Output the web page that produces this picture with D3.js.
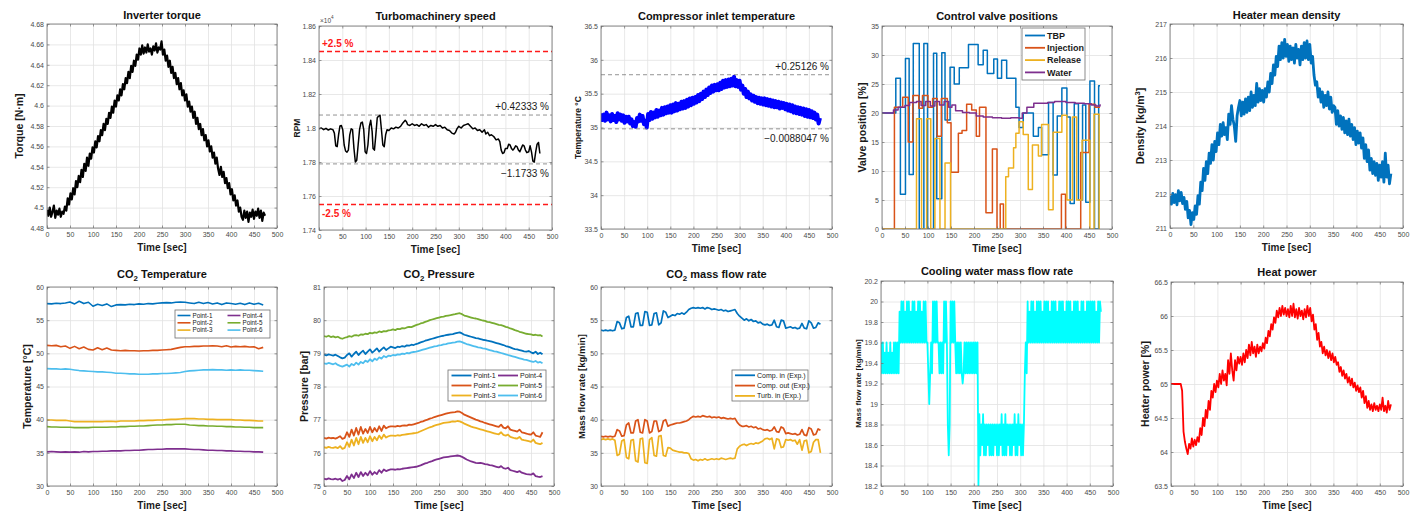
<!DOCTYPE html>
<html>
<head>
<meta charset="utf-8">
<script src="https://cdn.jsdelivr.net/npm/d3@7"></script>
<style>
  body { margin: 0; background: #fff; }
  svg { display: block; font-family: "Liberation Sans", Arial, Helvetica, sans-serif; }
</style>
</head>
<body>
<svg id="fig" width="1419" height="514"></svg>
<script>
// ---------------- shared axis data ----------------
const timeTicks = [0, 50, 100, 150, 200, 250, 300, 350, 400, 450, 500];

// ---------------- Inverter torque [N·m], sampled every 3 s ----------------
const torqueStep = 3;
const torqueTicks = [4.48, 4.5, 4.52, 4.54, 4.56, 4.58, 4.6, 4.62, 4.64, 4.66, 4.68];
const torque = [
  4.498,4.492,4.500,4.491,4.496,4.502,4.490,4.497,4.493,4.499,4.491,4.496,4.494,
  4.501,4.497,4.509,4.503,4.514,4.508,4.519,4.513,4.526,4.520,4.531,4.525,4.537,4.530,4.543,4.536,
  4.549,4.541,4.553,4.548,4.559,4.554,4.565,4.559,4.570,4.565,4.576,4.571,4.582,4.576,4.587,4.582,
  4.593,4.588,4.599,4.593,4.605,4.599,4.610,4.605,4.616,4.610,4.621,4.616,4.627,4.622,4.633,4.627,
  4.639,4.633,4.644,4.639,4.650,4.645,4.656,4.650,
  4.659,4.651,4.657,4.652,4.660,4.653,4.656,4.650,4.658,4.654,4.661,4.652,4.657,4.655,4.663,
  4.650,4.655,4.644,4.649,4.638,4.644,4.632,4.638,4.627,4.632,4.621,4.627,4.616,4.622,4.610,4.615,
  4.605,4.611,4.599,4.604,4.594,4.599,4.588,4.594,4.582,4.588,4.577,4.582,4.571,4.577,4.566,4.571,
  4.560,4.566,4.555,4.560,4.549,4.554,4.543,4.549,4.538,4.532,4.540,4.530,4.535,4.524,4.529,4.519,
  4.524,4.513,4.518,4.507,4.512,4.502,4.507,4.496,4.500,4.491,
  4.488,4.497,4.490,4.496,4.486,4.495,4.491,4.498,4.489,4.496,4.492,4.499,4.490,4.497,4.487,4.495,4.492
];

// ---------------- Turbomachinery speed [RPM] ----------------
const speedTicks = [17400, 17600, 17800, 18000, 18200, 18400, 18600];
const speedRef = 18000;
const speedLimits = [2.5, -2.5];            // allowed band [%]
const speedExtremes = [0.42333, -1.1733];   // observed band [%]
const speed = [
  [0,17995],[5,18000],[10,17990],[15,17998],[20,17988],[25,17995],[30,17990],[33,17970],[36,17895],[39,17890],
  [42,17960],[45,18012],[48,18015],[51,17990],[54,17900],[57,17865],[60,17858],[63,17870],[66,17960],[69,17995],
  [72,17990],[75,17880],[78,17800],[81,17810],[84,17900],[87,17990],[90,18030],[93,18035],[96,17990],[99,17860],
  [102,17850],[105,17900],[108,18010],[111,18045],[114,17980],[116,17880],[119,17870],[122,17960],[125,18060],
  [128,18070],[131,18075],[134,17990],[137,17900],[140,17890],[143,17960],[146,17990],[150,17985],[155,18000],
  [160,17995],[165,18005],[170,18000],[175,18010],[180,18030],[185,18045],[188,18035],[190,18020],[195,18015],
  [200,18025],[205,18015],[210,18020],[215,18010],[220,18025],[225,18015],[230,18020],[235,18005],[240,18015],
  [245,18010],[250,18020],[255,18010],[260,18015],[265,18000],[270,18005],[275,17990],[280,17985],[285,17970],
  [290,17965],[293,17975],[296,17995],[300,18010],[305,18000],[310,18015],[315,18020],[320,18025],[325,18010],
  [330,17995],[335,18000],[340,17985],[345,17990],[350,17975],[355,17990],[358,17965],[362,17975],[366,17955],
  [370,17960],[375,17950],[380,17930],[385,17935],[388,17920],[391,17870],[394,17850],[397,17855],[400,17880],
  [404,17880],[407,17905],[410,17900],[413,17880],[416,17870],[419,17880],[422,17895],[425,17890],[428,17870],
  [431,17860],[434,17880],[437,17900],[440,17895],[443,17870],[446,17855],[450,17860],[453,17895],[456,17860],
  [459,17805],[462,17800],[465,17860],[468,17905],[471,17915],[474,17850]
];

// ---------------- Compressor inlet temperature [°C], every 3 s ----------------
const inletStep = 3;
const inletTicks = [33.5, 34, 34.5, 35, 35.5, 36, 36.5];
const inletBands = [{ value: 35.78, label: "+0.25126 %" }, { value: 34.98, label: "\u22120.0088047 %" }];
const inletTemp = [
  35.21,35.11,35.19,35.10,35.22,35.12,35.18,35.09,35.20,35.11,35.17,35.08,35.21,35.12,35.19,35.10,35.18,35.07,35.16,35.09,
  35.16,35.06,35.12,35.02,35.08,35.01,35.14,35.09,35.19,35.10,35.17,35.05,35.10,35.00,
  35.20,35.11,35.23,35.13,35.22,35.15,35.26,35.16,35.25,35.18,35.29,35.19,35.30,35.21,35.31,35.22,
  35.33,35.22,35.34,35.24,35.36,35.25,35.35,35.27,35.38,35.28,35.39,35.29,35.41,35.31,35.43,35.33,35.44,
  35.35,35.45,35.37,35.48,35.39,35.50,35.42,35.53,35.45,35.56,35.48,35.59,35.51,35.62,35.53,35.63,35.55,
  35.64,35.55,35.66,35.57,35.69,35.59,35.70,35.60,35.71,35.61,35.72,35.62,35.75,35.61,35.70,35.60,35.69,
  35.56,35.62,35.50,35.57,35.45,35.53,35.43,35.49,35.40,35.47,35.38,35.45,35.36,35.44,35.35,35.43,35.34,
  35.43,35.33,35.42,35.32,35.41,35.31,35.40,35.30,35.39,35.30,35.38,35.28,35.37,35.29,35.36,35.27,35.35,
  35.25,35.34,35.24,35.33,35.22,35.31,35.21,35.30,35.20,35.29,35.19,35.28,35.17,35.27,35.16,35.26,35.15,
  35.24,35.14,35.22,35.12,35.19,35.06,35.14
];

// ---------------- Control valve positions [%] (time, opening) ----------------
const valveTicks = [0, 5, 10, 15, 20, 25, 30, 35];
const valveTBP = [
  [0,20],[30,26],[40,6],[51,29.4],[59,9.4],[68,32],[81,0],[91,32],[99,0],[112,30.3],[119,5.2],[130,30.4],
  [137,18.8],[148,27.9],[157,25],[168,27.8],[188,31.8],[209,28.3],[220,30.8],[229,26.8],[243,29.3],[251,26],
  [260,29.1],[271,26],[291,21],[298,17.5],[307,20],[329,16],[340,17.5],[347,12.8],[362,21.8],[372,9.3],
  [381,19.5],[391,24.3],[402,19.3],[409,4.4],[418,21.6],[427,5],[436,21.4],[443,4.6],[452,25.5],[462,0],
  [471,24.7],[474,24.7]
];
const valveInjection = [
  [0,0],[27,21],[45,22.7],[57,15],[67,23],[80,20.8],[88,23],[100,21],[110,22.5],[120,16],[129,22.5],
  [142,18.3],[150,9.8],[166,16.5],[174,17],[184,21.5],[195,20.5],[205,16],[212,21],[226,2.8],[240,13.8],
  [250,0],[257,4.3],[264,0],[390,6],[399,0],[432,13.2],[450,21.5],[463,21],[474,21]
];
const valveRelease = [
  [0,0],[75,19],[86,0],[97,19],[106,0],[115,15.6],[126,0],[137,11.4],[149,0],[269,9],[275,10.5],[286,14],
  [291,16.5],[298,18.5],[307,16.3],[318,6.8],[327,14.5],[340,12.6],[347,18],[362,3.3],[372,16.7],[391,19.6],
  [402,5],[414,19.3],[423,5],[435,15.3],[452,0],[461,19.8],[472,0],[474,0]
];
const valveWater = [
  [0,20],[25,20.5],[35,21],[50,21.3],[60,21.8],[75,22],[85,21.3],[95,22],[105,21.2],[115,22],[125,21.4],
  [135,22],[145,21],[152,21.4],[160,20.4],[175,20.1],[190,20],[205,19.5],[220,19.3],[240,19.2],[260,19.1],
  [280,19.2],[298,19.1],[305,20],[315,21],[330,21.7],[360,21.8],[375,22],[400,21.8],[420,21.7],[440,21.6],
  [455,21.4],[465,21.2],[474,21.5]
];

// ---------------- Heater mean density [kg/m³], every 3 s ----------------
const densityStep = 3;
const densityTicks = [211, 212, 213, 214, 215, 216, 217];
const density = [
  211.95,211.70,212.02,211.75,211.98,211.68,212.10,211.80,212.05,211.72,211.90,211.55,211.78,211.30,211.52,211.10,211.45,211.25,211.65,211.40,
  211.95,211.70,212.35,212.10,212.75,212.40,212.95,212.60,213.20,212.90,213.45,213.00,213.55,213.25,
  213.80,213.45,214.05,213.70,214.10,213.75,213.95,213.60,214.35,214.05,214.60,214.20,214.00,213.55,214.30,214.55,
  214.75,214.30,214.70,214.35,214.80,214.40,214.85,214.45,215.00,214.55,214.90,214.60,215.25,214.70,215.10,214.75,215.05,
  214.70,215.10,214.85,215.30,215.00,215.55,215.25,215.80,215.50,216.05,215.75,216.35,215.95,216.45,216.00,216.55,216.05,
  216.40,215.90,216.35,215.95,216.30,215.85,216.40,216.00,216.25,215.80,216.35,215.95,216.45,216.00,216.50,215.95,216.40,
  215.85,216.05,215.50,215.20,215.30,214.85,215.10,214.70,215.00,214.55,214.90,214.60,215.00,214.50,214.85,214.40,214.60,
  214.55,214.05,214.45,214.00,214.30,213.90,214.25,213.80,214.15,213.75,214.20,213.70,214.05,213.60,213.95,213.45,213.85,
  213.50,213.80,213.35,213.65,213.05,213.45,212.95,213.30,212.70,213.05,212.60,212.95,212.55,212.90,212.40,212.85,212.50,
  212.95,212.35,213.20,212.50,212.85,212.30,212.60
];

// ---------------- CO2 temperature [°C] at six loop points, every 10 s ----------------
const co2TempStep = 10;
const co2TempTicks = [30, 35, 40, 45, 50, 55, 60];
const tempP1 = [57.5,57.45,57.55,57.5,57.6,57.75,57.45,57.85,57.5,57.7,57.1,57.4,57.2,57.45,57.05,57.3,57.35,57.3,57.4,57.35,57.45,57.4,57.5,57.45,57.55,57.6,57.65,57.6,57.7,57.75,57.7,57.6,57.5,57.7,57.5,57.65,57.45,57.6,57.35,57.6,57.5,57.4,57.55,57.35,57.6,57.4,57.55,57.3];
const tempP2 = [51.2,51.15,51.2,51.0,51.1,50.75,51.05,50.7,50.95,50.6,50.5,50.85,50.55,50.8,50.5,50.45,50.4,50.45,50.4,50.4,50.35,50.4,50.4,50.45,50.45,50.5,50.55,50.6,50.75,50.9,51.0,51.0,51.05,51.05,51.1,51.1,51.15,51.1,51.0,51.15,50.95,51.05,51.0,51.05,50.95,51.0,50.7,50.9];
const tempP3 = [39.95,39.95,39.9,39.9,39.9,39.8,39.7,39.7,39.7,39.7,39.7,39.7,39.7,39.75,39.75,39.7,39.8,39.8,39.8,39.8,39.85,39.85,39.9,39.9,39.95,39.95,40.0,40.05,40.05,40.1,40.15,40.15,40.15,40.1,40.1,40.05,40.05,40.0,40.0,40.0,40.0,39.95,39.95,39.9,39.9,39.85,39.8,39.8];
const tempP4 = [35.15,35.2,35.15,35.1,35.15,35.1,35.15,35.1,35.2,35.15,35.2,35.2,35.25,35.25,35.3,35.3,35.3,35.35,35.35,35.4,35.4,35.45,35.5,35.5,35.55,35.55,35.6,35.6,35.6,35.6,35.6,35.55,35.5,35.5,35.45,35.4,35.4,35.35,35.35,35.3,35.3,35.25,35.25,35.2,35.2,35.15,35.15,35.1];
const tempP5 = [38.95,38.9,38.9,38.85,38.85,38.85,38.8,38.8,38.8,38.8,38.85,38.85,38.85,38.85,38.9,38.9,38.95,38.95,39.0,39.0,39.05,39.05,39.1,39.15,39.2,39.2,39.25,39.25,39.3,39.3,39.3,39.2,39.15,39.1,39.1,39.05,39.05,39.0,39.0,38.95,38.95,38.9,38.9,38.85,38.85,38.8,38.8,38.8];
const tempP6 = [47.7,47.65,47.65,47.6,47.65,47.6,47.5,47.4,47.35,47.3,47.25,47.2,47.2,47.15,47.1,47.0,47.0,46.95,46.9,46.9,46.85,46.85,46.85,46.9,46.9,46.95,46.95,47.0,47.05,47.1,47.25,47.35,47.4,47.45,47.5,47.5,47.55,47.5,47.5,47.45,47.5,47.45,47.5,47.45,47.45,47.4,47.35,47.3];

// ---------------- CO2 pressure [bar] at six loop points, every 5 s ----------------
const co2PresStep = 5;
const co2PresTicks = [75, 76, 77, 78, 79, 80, 81];
const presP1 = [78.96,78.94,78.97,78.95,78.93,78.96,78.92,78.88,78.85,78.87,78.95,79.00,78.90,78.98,79.05,78.95,79.02,79.08,78.98,79.05,79.12,79.02,79.08,79.15,79.05,79.12,79.18,79.10,79.15,79.20,79.18,79.16,79.20,79.19,79.22,79.20,79.24,79.23,79.26,79.25,79.28,79.30,79.33,79.35,79.38,79.40,79.42,79.44,79.46,79.48,79.50,79.52,79.53,79.55,79.56,79.57,79.58,79.60,79.62,79.63,79.60,79.56,79.54,79.52,79.50,79.48,79.46,79.45,79.43,79.41,79.40,79.38,79.37,79.35,79.33,79.31,79.29,79.27,79.25,79.22,79.20,79.18,79.15,79.13,79.12,79.10,79.08,79.06,79.05,79.07,79.03,79.00,79.05,78.98,79.02,78.97];
const presP2 = [76.45,76.43,76.46,76.44,76.45,76.43,76.46,76.50,76.42,76.45,76.62,76.48,76.70,76.52,76.75,76.55,76.78,76.58,76.72,76.60,76.78,76.62,76.75,76.64,76.80,76.66,76.82,76.74,76.78,76.80,76.80,76.79,76.81,76.80,76.82,76.83,76.82,76.85,76.84,76.86,76.88,76.90,76.93,76.95,76.98,77.00,77.03,77.05,77.08,77.10,77.12,77.14,77.16,77.18,77.20,77.21,77.22,77.23,77.25,77.24,77.20,77.15,77.12,77.09,77.06,77.03,77.00,76.98,76.95,76.93,76.90,76.88,76.86,76.84,76.82,76.80,76.78,76.85,76.76,76.74,76.80,76.70,76.68,76.66,76.64,76.70,76.62,76.60,76.58,76.56,76.55,76.62,76.52,76.50,76.48,76.62];
const presP3 = [76.17,76.15,76.18,76.16,76.15,76.17,76.14,76.20,76.12,76.15,76.32,76.18,76.40,76.22,76.45,76.26,76.48,76.30,76.45,76.32,76.50,76.35,76.48,76.38,76.52,76.42,76.55,76.46,76.50,76.52,76.52,76.51,76.53,76.52,76.54,76.55,76.56,76.57,76.58,76.59,76.60,76.62,76.65,76.68,76.71,76.74,76.77,76.79,76.82,76.84,76.86,76.88,76.90,76.91,76.92,76.93,76.95,76.94,76.96,76.95,76.92,76.88,76.85,76.82,76.79,76.77,76.75,76.73,76.71,76.69,76.67,76.65,76.63,76.61,76.59,76.57,76.56,76.62,76.54,76.52,76.55,76.48,76.46,76.44,76.43,76.48,76.40,76.38,76.37,76.35,76.33,76.40,76.30,76.28,76.26,76.30];
const presP4 = [75.22,75.20,75.23,75.21,75.20,75.22,75.19,75.22,75.15,75.18,75.30,75.20,75.35,75.24,75.40,75.27,75.42,75.30,75.40,75.32,75.45,75.34,75.42,75.36,75.48,75.40,75.50,75.45,75.48,75.50,75.50,75.49,75.51,75.50,75.52,75.53,75.54,75.55,75.56,75.57,75.58,75.60,75.62,75.65,75.68,75.70,75.73,75.75,75.78,75.80,75.82,75.84,75.86,75.87,75.88,75.89,75.90,75.91,75.92,75.91,75.88,75.84,75.80,75.77,75.74,75.72,75.70,75.69,75.70,75.68,75.66,75.65,75.63,75.62,75.60,75.58,75.56,75.60,75.54,75.52,75.55,75.48,75.46,75.44,75.42,75.45,75.40,75.38,75.36,75.35,75.34,75.38,75.30,75.28,75.27,75.30];
const presP5 = [79.52,79.50,79.53,79.49,79.51,79.48,79.50,79.46,79.44,79.47,79.49,79.52,79.50,79.54,79.55,79.53,79.57,79.56,79.59,79.58,79.62,79.60,79.63,79.62,79.66,79.64,79.67,79.66,79.69,79.70,79.72,79.70,79.74,79.73,79.76,79.75,79.78,79.80,79.79,79.82,79.85,79.87,79.90,79.92,79.95,79.97,80.00,80.02,80.04,80.06,80.08,80.10,80.11,80.13,80.14,80.15,80.17,80.18,80.20,80.21,80.18,80.14,80.12,80.10,80.08,80.06,80.05,80.03,80.01,79.99,79.98,79.95,79.94,79.92,79.90,79.88,79.86,79.85,79.83,79.80,79.78,79.75,79.73,79.70,79.68,79.65,79.63,79.61,79.59,79.58,79.57,79.55,79.56,79.54,79.55,79.51];
const presP6 = [78.70,78.68,78.71,78.69,78.67,78.70,78.65,78.62,78.60,78.63,78.66,78.60,78.68,78.64,78.72,78.66,78.74,78.70,78.78,78.74,78.82,78.76,78.84,78.80,78.88,78.84,78.92,78.88,78.93,78.92,78.95,78.94,78.97,78.96,78.99,78.98,79.01,79.00,79.03,79.04,79.05,79.07,79.09,79.11,79.13,79.15,79.17,79.19,79.21,79.22,79.24,79.25,79.27,79.28,79.30,79.31,79.32,79.33,79.35,79.36,79.34,79.31,79.28,79.26,79.24,79.22,79.20,79.18,79.17,79.15,79.14,79.12,79.10,79.08,79.06,79.05,79.03,79.01,78.99,78.97,78.95,78.93,78.91,78.89,78.87,78.85,78.83,78.81,78.80,78.78,78.76,78.74,78.77,78.72,78.74,78.70];

// ---------------- CO2 mass flow rate [kg/min], every 5 s ----------------
const flowStep = 5;
const flowTicks = [30, 35, 40, 45, 50, 55, 60];
const flowCompIn = [53.5,53.4,53.5,53.4,53.5,53.4,53.5,54.8,54.6,53.7,53.8,55.4,55.6,54.0,54.0,56.0,56.1,54.2,54.2,56.3,56.2,54.2,54.3,56.0,56.1,54.3,54.6,56.4,56.2,55.4,55.6,55.8,55.7,56.0,55.9,56.1,55.9,56.2,56.6,56.8,56.9,56.8,56.9,56.8,56.9,56.7,56.9,56.8,56.6,56.7,56.6,56.5,56.6,56.4,56.5,56.3,56.4,56.5,56.6,56.0,55.6,55.3,55.0,55.2,54.9,55.1,54.8,54.9,54.6,54.7,54.4,54.3,54.4,54.2,54.3,55.0,54.0,53.9,55.0,54.9,53.8,53.9,54.0,53.8,53.9,53.7,53.8,54.5,53.8,53.7,54.9,54.6,53.8,53.9,54.6,54.4];
const flowCompOut = [37.5,37.4,37.5,37.4,37.5,37.4,37.5,38.5,38.3,37.5,37.6,39.2,39.5,38.0,38.0,39.8,40.0,38.1,38.0,40.0,39.8,38.0,38.2,39.8,39.8,38.2,38.4,39.8,40.0,39.0,39.2,39.3,39.4,39.5,39.5,39.6,39.7,39.8,40.0,40.3,40.5,40.4,40.5,40.4,40.6,40.5,40.4,40.5,40.3,40.4,40.3,40.4,40.2,40.3,40.2,40.1,40.2,40.1,40.2,39.6,39.2,39.0,39.0,39.1,38.9,39.0,38.8,38.9,38.6,38.7,38.5,38.4,38.5,38.3,38.4,38.9,38.2,38.1,38.9,38.7,37.9,38.0,37.9,37.8,37.9,37.7,37.8,38.5,37.7,37.6,38.8,38.6,37.7,37.8,38.6,38.4];
const flowTurbIn = [37.0,37.1,37.0,37.1,37.0,37.1,36.9,34.6,34.8,36.8,37.0,34.3,34.1,36.9,37.0,33.8,33.6,37.1,37.2,33.5,33.4,37.0,37.3,34.6,34.5,37.5,37.6,34.6,34.5,35.8,35.7,35.4,35.3,35.2,35.1,35.1,35.0,35.0,34.9,34.1,33.9,34.0,33.8,34.0,33.9,34.1,33.9,34.0,34.1,34.0,34.1,34.0,34.2,34.1,34.0,34.1,34.2,34.1,34.2,35.6,36.0,36.2,36.3,36.1,36.3,36.4,36.3,36.5,36.4,36.6,36.8,37.1,37.2,37.0,37.2,35.6,37.1,37.0,35.8,35.9,37.0,36.9,37.0,36.8,36.9,36.3,37.0,35.4,36.8,36.9,35.0,35.2,36.6,37.0,37.0,35.0];

// ---------------- Cooling water mass flow rate [kg/min], every 2 s ----------------
const waterStep = 2;
const waterTicks = [18.2, 18.4, 18.6, 18.8, 19, 19.2, 19.4, 19.6, 19.8, 20, 20.2];
const coolingWater = [
  19.6,19.3,19.6,19.3,19.5,19.3,19.6,19.3,19.5,19.3,19.6,19.3,19.5,19.3,19.6,19.3,19.6,19.3,19.6,19.3,
  19.9,19.6,20.0,19.6,20.0,19.6,19.9,19.6,20.0,19.6,20.0,19.6,19.9,19.6,20.0,19.6,20.0,19.6,19.9,19.6,
  20.0,19.6,20.0,19.6,19.9,19.6,20.0,19.6,20.0,19.6,
  19.6,19.3,19.0,19.3,19.6,19.3,
  20.0,19.6,20.0,19.6,20.0,19.6,19.6,
  19.3,19.6,19.3,19.6,19.3,
  20.0,19.6,20.0,19.6,
  18.8,18.5,18.8,
  20.0,19.6,20.0,19.6,20.0,
  19.6,19.3,19.6,19.3,19.6,19.3,19.6,19.3,19.2,19.3,19.6,19.3,19.6,19.3,19.6,19.3,19.6,19.3,19.6,19.3,19.6,19.3,19.6,19.3,19.6,
  18.2,
  18.9,18.5,18.8,18.6,18.9,18.5,18.8,18.5,18.8,18.6,18.8,18.5,18.8,18.5,18.8,18.5,18.8,18.6,18.8,18.5,
  18.8,18.5,18.8,18.6,18.9,18.5,18.8,18.5,18.9,18.5,18.8,18.6,18.8,18.5,18.8,18.5,18.8,18.6,18.9,18.5,
  18.8,18.5,18.9,18.6,18.8,18.5,18.8,18.5,18.8,
  19.3,19.6,19.3,
  20.0,19.6,19.9,19.6,20.0,19.6,20.0,19.6,19.9,19.6,20.0,19.6,20.0,19.6,20.0,19.6,19.9,19.6,20.0,19.6,
  20.0,19.6,20.0,19.6,19.9,19.6,20.0,19.6,20.0,19.6,20.0,19.6,19.9,19.6,20.0,19.6,20.0,19.6,20.0,19.6,
  19.9,19.6,20.0,19.6,20.0,19.6,20.0,19.6,19.9,19.6,20.0,19.6,20.0,19.6,20.0,19.6,19.9,19.6,20.0,19.6,
  20.0,19.6,19.9,19.6,20.0,19.6,20.0,19.6,20.0,19.6,20.0,19.6,20.0,19.6,19.9,19.6,20.0,19.6,20.0,19.9
];

// ---------------- Heat power [%], every 3 s ----------------
const heatStep = 3;
const heatTicks = [63.5, 64, 64.5, 65, 65.5, 66, 66.5];
const heatPower = [
  65,65,65,65,65,65,65,65,
  64.90,64.30,64.15,64.05,63.97,64.12,64.05,64.20,64.08,64.18,64.10,64.22,
  64.15,64.35,64.25,64.50,64.38,64.62,64.50,64.75,64.62,64.90,64.80,65.00,64.88,65.05,
  64.95,65.15,65.00,65.20,65.05,65.15,64.98,65.35,65.15,65.45,65.20,65.05,65.35,65.20,65.40,65.30,
  65.40,65.28,65.45,65.32,65.50,65.38,65.58,65.42,65.62,65.45,65.55,65.40,65.58,65.45,65.55,65.48,65.60,
  65.52,65.68,65.60,65.78,65.70,65.88,65.80,65.98,65.90,66.08,65.98,66.12,66.00,66.15,66.02,66.12,66.00,
  66.10,65.98,66.15,66.00,66.18,65.98,66.10,65.96,66.12,66.00,66.08,65.95,66.10,65.98,66.15,66.00,66.12,
  65.92,66.02,65.80,65.88,65.65,65.75,65.55,65.62,65.45,65.55,65.42,65.50,65.38,65.48,65.35,65.45,65.32,
  65.40,65.28,65.32,65.18,65.25,65.12,65.20,65.08,65.15,65.02,65.10,64.98,65.08,64.95,65.02,64.90,64.98,
  64.88,64.95,64.80,64.90,64.72,64.82,64.65,64.75,64.62,64.70,64.60,64.72,64.62,64.68,64.60,64.70,64.62,
  64.80,64.60,64.68,64.58,64.75,64.62,64.70
];

// ---------------- palette ----------------
const C = {
  blue: "#0072BD", orange: "#D95319", yellow: "#EDB120",
  purple: "#7E2F8E", green: "#77AC30", sky: "#4DBEEE"
};

// ---------------- helpers ----------------
const svg = d3.select("#fig");
const sampled = (step, vals) => vals.map((v, i) => [i * step, v]);
const fmt = d => String(+d.toFixed(2));
let clipCount = 0;

// Writes text pieces; "sub"/"sup" pieces are shifted and shrunk, the next piece returns to the baseline.
function richText(sel, parts) {
  let pending = 0;
  parts.forEach(([t, kind]) => {
    const shift = kind === "sub" ? 3 : kind === "sup" ? -4 : 0;
    const ts = sel.append("tspan").attr("dy", shift - pending).text(t);
    if (kind) ts.attr("font-size", "72%");
    pending = shift;
  });
}

function panel(o) {
  const [x0, y0, x1, y1] = o.box;
  const x = d3.scaleLinear().domain([0, 500]).range([x0, x1]);
  const y = d3.scaleLinear().domain(o.yDomain).range([y1, y0]);
  const g = svg.append("g");

  // grid
  g.append("g").attr("transform", `translate(0,${y1})`)
    .call(d3.axisBottom(x).tickValues(timeTicks).tickSize(-(y1 - y0)).tickFormat(""))
    .call(a => { a.select(".domain").remove(); a.selectAll("line").attr("stroke", "#e2e2e2").attr("stroke-width", 0.8); });
  g.append("g").attr("transform", `translate(${x0},0)`)
    .call(d3.axisLeft(y).tickValues(o.yTicks).tickSize(-(x1 - x0)).tickFormat(""))
    .call(a => { a.select(".domain").remove(); a.selectAll("line").attr("stroke", "#e2e2e2").attr("stroke-width", 0.8); });

  // plotted content, clipped to the axes box
  const id = "clip" + (clipCount++);
  svg.append("clipPath").attr("id", id).append("rect")
    .attr("x", x0).attr("y", y0).attr("width", x1 - x0).attr("height", y1 - y0);
  const plot = g.append("g").attr("clip-path", `url(#${id})`);
  (o.series || []).forEach(s => {
    const line = d3.line().x(d => x(d[0])).y(d => y(d[1])).curve(s.curve || d3.curveLinear);
    plot.append("path").datum(s.data).attr("d", line)
      .attr("fill", "none").attr("stroke", s.color).attr("stroke-width", s.width || 1.5)
      .attr("stroke-linejoin", "round").attr("stroke-dasharray", s.dash || null);
  });
  if (o.extra) o.extra(g, plot, x, y);

  // box
  g.append("rect").attr("x", x0).attr("y", y0).attr("width", x1 - x0).attr("height", y1 - y0)
    .attr("fill", "none").attr("stroke", "#6f6f6f").attr("stroke-width", 0.8);

  // axes with inward ticks
  const styleAxis = a => {
    a.select(".domain").remove();
    a.selectAll("line").attr("stroke", "#6f6f6f").attr("stroke-width", 0.7);
    a.selectAll("text").attr("fill", "#4a4a4a").attr("font-size", 7)
      .attr("font-family", '"Liberation Sans", Arial, sans-serif');
  };
  g.append("g").attr("transform", `translate(0,${y1})`)
    .call(d3.axisBottom(x).tickValues(timeTicks).tickSizeInner(-2.5).tickSizeOuter(0).tickPadding(4).tickFormat(fmt))
    .call(styleAxis);
  g.append("g").attr("transform", `translate(0,${y0})`)
    .call(d3.axisTop(x).tickValues(timeTicks).tickSizeInner(-2.5).tickSizeOuter(0).tickFormat(""))
    .call(styleAxis);
  g.append("g").attr("transform", `translate(${x0},0)`)
    .call(d3.axisLeft(y).tickValues(o.yTicks).tickSizeInner(-2.5).tickSizeOuter(0).tickPadding(3).tickFormat(o.yFormat || fmt))
    .call(styleAxis);
  g.append("g").attr("transform", `translate(${x1},0)`)
    .call(d3.axisRight(y).tickValues(o.yTicks).tickSizeInner(-2.5).tickSizeOuter(0).tickFormat(""))
    .call(styleAxis);

  // title and axis labels
  const title = g.append("text").attr("x", (x0 + x1) / 2).attr("y", o.titleY)
    .attr("text-anchor", "middle").attr("font-size", 11).attr("font-weight", "bold").attr("fill", "#111");
  richText(title, o.title);
  g.append("text").attr("x", (x0 + x1) / 2).attr("y", y1 + 23)
    .attr("text-anchor", "middle").attr("font-size", 10).attr("font-weight", "bold").attr("fill", "#1a1a1a")
    .text("Time [sec]");
  const yl = g.append("text").attr("transform", `translate(${o.yLabelX},${(y0 + y1) / 2}) rotate(-90)`)
    .attr("text-anchor", "middle").attr("font-size", o.yLabelSize || 10.5).attr("font-weight", "bold")
    .attr("fill", "#1a1a1a");
  richText(yl, o.yLabel);
  return { g, x, y };
}

function legend(g, L) {
  const lg = g.append("g");
  lg.append("rect").attr("x", L.x).attr("y", L.y).attr("width", L.w).attr("height", L.h)
    .attr("fill", "#fff").attr("stroke", "#6f6f6f").attr("stroke-width", 0.8);
  L.items.forEach((it, k) => {
    const col = Math.floor(k / L.rows), row = k % L.rows;
    const cx = L.x + L.padX + col * (L.colW || 0);
    const cy = L.y + L.padY + row * L.rowH;
    lg.append("line").attr("x1", cx).attr("x2", cx + L.lineLen).attr("y1", cy).attr("y2", cy)
      .attr("stroke", it.color).attr("stroke-width", L.lw || 1.8);
    lg.append("text").attr("x", cx + L.lineLen + 2).attr("y", cy).attr("dy", "0.35em")
      .attr("font-size", L.fs).attr("font-weight", L.fw || "normal").attr("fill", "#1a1a1a").text(it.label);
  });
}

// ---------------- top row ----------------
panel({
  box: [47, 24, 277, 228], yDomain: [4.48, 4.68], yTicks: torqueTicks,
  title: [["Inverter torque"]], titleY: 19,
  yLabel: [["Torque [N\u00b7m]"]], yLabelX: 23,
  series: [{ data: sampled(torqueStep, torque), color: "#000", width: 2.2 }]
});

panel({
  box: [319, 26, 552, 230], yDomain: [17400, 18600], yTicks: speedTicks,
  yFormat: d => String(+(d / 1e4).toFixed(2)),
  title: [["Turbomachinery speed"]], titleY: 20,
  yLabel: [["RPM"]], yLabelX: 300, yLabelSize: 8.5,
  series: [{ data: speed, color: "#000", width: 1.5 }],
  extra: (g, plot, x, y) => {
    const [x0, x1] = x.range();
    speedLimits.forEach(p => {
      const v = speedRef * (1 + p / 100);
      plot.append("line").attr("x1", x0).attr("x2", x1).attr("y1", y(v)).attr("y2", y(v))
        .attr("stroke", "#ff1a1a").attr("stroke-width", 1.5).attr("stroke-dasharray", "5,3");
      g.append("text").attr("x", x0 + 3).attr("y", p > 0 ? y(v) - 5 : y(v) + 12)
        .attr("font-size", 10).attr("font-weight", "bold").attr("fill", "#ff1a1a")
        .text((p > 0 ? "+" : "-") + Math.abs(p) + " %");
    });
    speedExtremes.forEach(p => {
      const v = speedRef * (1 + p / 100);
      plot.append("line").attr("x1", x0).attr("x2", x1).attr("y1", y(v)).attr("y2", y(v))
        .attr("stroke", "#777").attr("stroke-width", 0.8).attr("stroke-dasharray", "4,3");
      g.append("text").attr("x", x1 - 3).attr("y", p > 0 ? y(v) - 5 : y(v) + 13)
        .attr("text-anchor", "end").attr("font-size", 10).attr("fill", "#1a1a1a")
        .text((p > 0 ? "+" : "\u2212") + Math.abs(p) + " %");
    });
    const m = g.append("text").attr("x", x0 + 1).attr("y", y.range()[1] - 3)
      .attr("font-size", 6.5).attr("fill", "#4a4a4a");
    richText(m, [["\u00d710"], ["4", "sup"]]);
  }
});

panel({
  box: [601, 26, 832, 229], yDomain: [33.5, 36.5], yTicks: inletTicks,
  title: [["Compressor inlet temperature"]], titleY: 20,
  yLabel: [["Temperature \u00b0C"]], yLabelX: 581, yLabelSize: 8.5,
  series: [{ data: sampled(inletStep, inletTemp), color: "#0000ff", width: 4 }],
  extra: (g, plot, x, y) => {
    const [x0, x1] = x.range();
    inletBands.forEach((b, k) => {
      plot.append("line").attr("x1", x0).attr("x2", x1).attr("y1", y(b.value)).attr("y2", y(b.value))
        .attr("stroke", "#777").attr("stroke-width", 0.8).attr("stroke-dasharray", "4,3");
      g.append("text").attr("x", x1 - 3).attr("y", k === 0 ? y(b.value) - 5 : y(b.value) + 13)
        .attr("text-anchor", "end").attr("font-size", 10).attr("fill", "#1a1a1a").text(b.label);
    });
  }
});

const valves = [
  { name: "TBP", data: valveTBP, color: C.blue },
  { name: "Injection", data: valveInjection, color: C.orange },
  { name: "Release", data: valveRelease, color: C.yellow },
  { name: "Water", data: valveWater, color: C.purple }
];
const pValves = panel({
  box: [882, 26, 1112, 229], yDomain: [0, 35], yTicks: valveTicks,
  title: [["Control valve positions"]], titleY: 20,
  yLabel: [["Valve position [%]"]], yLabelX: 866,
  series: valves.map(v => ({ data: v.data, color: v.color, width: 1.5, curve: d3.curveStepAfter }))
});
legend(pValves.g, {
  x: 1022, y: 28, w: 63, h: 52, rows: 4, rowH: 12.3, padX: 3, padY: 7.5, lineLen: 20, fs: 9, fw: "bold", lw: 1.8,
  items: valves.map(v => ({ label: v.name, color: v.color }))
});

panel({
  box: [1170, 24, 1403, 228], yDomain: [211, 217], yTicks: densityTicks,
  title: [["Heater mean density"]], titleY: 19,
  yLabel: [["Density [kg/m"], ["3", "sup"], ["]"]], yLabelX: 1144,
  series: [{ data: sampled(densityStep, density), color: C.blue, width: 2.8 }]
});

// ---------------- bottom row ----------------
const tempPoints = [
  { name: "Point-1", vals: tempP1, color: C.blue },
  { name: "Point-2", vals: tempP2, color: C.orange },
  { name: "Point-3", vals: tempP3, color: C.yellow },
  { name: "Point-4", vals: tempP4, color: C.purple },
  { name: "Point-5", vals: tempP5, color: C.green },
  { name: "Point-6", vals: tempP6, color: C.sky }
];
const pTemp = panel({
  box: [47, 287, 277, 486], yDomain: [30, 60], yTicks: co2TempTicks,
  title: [["CO"], ["2", "sub"], [" Temperature"]], titleY: 278,
  yLabel: [["Temperature [\u00b0C]"]], yLabelX: 31,
  series: tempPoints.map(p => ({ data: sampled(co2TempStep, p.vals), color: p.color, width: 1.6 }))
});
legend(pTemp.g, {
  x: 175, y: 310, w: 95, h: 28, rows: 3, rowH: 7.3, colW: 50, padX: 2.5, padY: 5.5, lineLen: 13, fs: 6.3, lw: 1.6,
  items: tempPoints.map(p => ({ label: p.name, color: p.color }))
});

const presPoints = [
  { name: "Point-1", vals: presP1, color: C.blue },
  { name: "Point-2", vals: presP2, color: C.orange },
  { name: "Point-3", vals: presP3, color: C.yellow },
  { name: "Point-4", vals: presP4, color: C.purple },
  { name: "Point-5", vals: presP5, color: C.green },
  { name: "Point-6", vals: presP6, color: C.sky }
];
const pPres = panel({
  box: [324, 287, 554, 486], yDomain: [75, 81], yTicks: co2PresTicks,
  title: [["CO"], ["2", "sub"], [" Pressure"]], titleY: 278,
  yLabel: [["Pressure [bar]"]], yLabelX: 308,
  series: presPoints.map(p => ({ data: sampled(co2PresStep, p.vals), color: p.color, width: 1.8 }))
});
legend(pPres.g, {
  x: 448, y: 370, w: 98, h: 31, rows: 3, rowH: 10, colW: 46.5, padX: 3.5, padY: 5.5, lineLen: 20, fs: 7, lw: 1.8,
  items: presPoints.map(p => ({ label: p.name, color: p.color }))
});

const flows = [
  { name: "Comp. in (Exp.)", vals: flowCompIn, color: C.blue },
  { name: "Comp. out (Exp.)", vals: flowCompOut, color: C.orange },
  { name: "Turb. in (Exp.)", vals: flowTurbIn, color: C.yellow }
];
const pFlow = panel({
  box: [601, 287, 832, 486], yDomain: [30, 60], yTicks: flowTicks,
  title: [["CO"], ["2", "sub"], [" mass flow rate"]], titleY: 278,
  yLabel: [["Mass flow rate [kg/min]"]], yLabelX: 585, yLabelSize: 9.5,
  series: flows.map(f => ({ data: sampled(flowStep, f.vals), color: f.color, width: 1.7 }))
});
legend(pFlow.g, {
  x: 732, y: 370, w: 76, h: 31, rows: 3, rowH: 10.3, padX: 3, padY: 5.3, lineLen: 20, fs: 7, lw: 1.8,
  items: flows.map(f => ({ label: f.name, color: f.color }))
});

panel({
  box: [881, 281, 1113, 486], yDomain: [18.2, 20.2], yTicks: waterTicks,
  title: [["Cooling water mass flow rate"]], titleY: 275,
  yLabel: [["Mass flow rate [kg/min]"]], yLabelX: 861, yLabelSize: 8,
  series: [{ data: sampled(waterStep, coolingWater), color: "#00ffff", width: 1.8 }]
});

panel({
  box: [1171, 282, 1403, 486], yDomain: [63.5, 66.5], yTicks: heatTicks,
  title: [["Heat power"]], titleY: 276,
  yLabel: [["Heater power [%]"]], yLabelX: 1149,
  series: [{ data: sampled(heatStep, heatPower), color: "#ff0000", width: 1.8 }]
});
</script>
</body>
</html>
